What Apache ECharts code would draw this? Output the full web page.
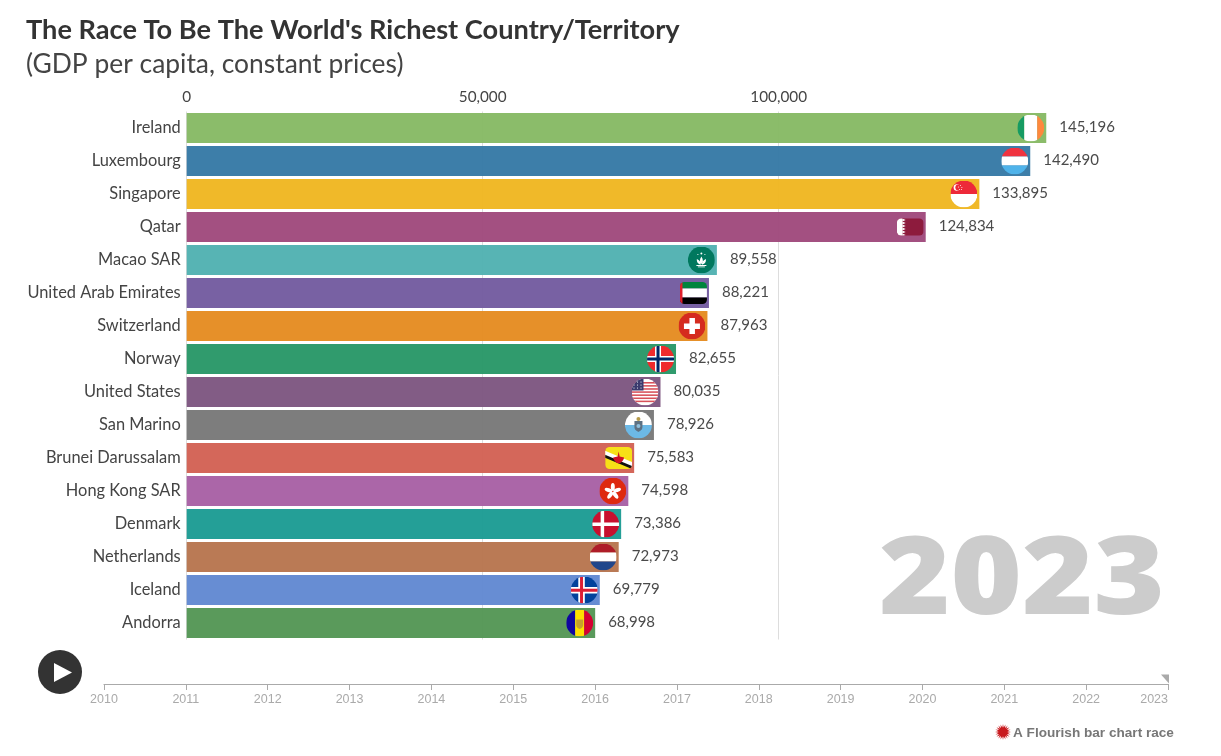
<!DOCTYPE html>
<html>
<head>
<meta charset="utf-8" />
<title>The Race To Be The World's Richest Country/Territory</title>
<script src="https://cdn.jsdelivr.net/npm/echarts@6/dist/echarts.min.js"></script>
<style>
  html, body { margin: 0; padding: 0; background: #fff; }
  #main { width: 1221px; height: 756px; }
</style>
</head>
<body>
<div id="main"></div>
<script>
var categories = ['Ireland', 'Luxembourg', 'Singapore', 'Qatar', 'Macao SAR', 'United Arab Emirates', 'Switzerland', 'Norway',
  'United States', 'San Marino', 'Brunei Darussalam', 'Hong Kong SAR', 'Denmark', 'Netherlands', 'Iceland', 'Andorra'];
var gdpValues = [145196, 142490, 133895, 124834, 89558, 88221, 87963, 82655, 80035, 78926, 75583, 74598, 73386, 72973, 69779, 68998];
var barColors = ['#87ba65', '#377aa6', '#f0b722', '#a04a7d', '#52b2b2', '#745ca0', '#e58c22', '#299868',
  '#7e5781', '#797979', '#d36255', '#a861a5', '#1d9c94', '#b87650', '#6289d2', '#559756'];
var years = [2010, 2011, 2012, 2013, 2014, 2015, 2016, 2017, 2018, 2019, 2020, 2021, 2022, 2023];
var currentYear = 2023;

var fontName = 'Lato';

// flags are 54x54 svg, clipped to a circle unless they are the rounded kind
function circleFlag(inner) {
  return flagUri('<clipPath id="c"><circle cx="27" cy="27" r="27"/></clipPath><g clip-path="url(#c)">' + inner + '</g>');
}
function roundFlag(h, inner) {
  var y = (54 - h) / 2;
  return flagUri('<clipPath id="c"><rect x="0" y="' + y + '" width="54" height="' + h + '" rx="9"/></clipPath><g clip-path="url(#c)">' + inner + '</g>');
}
function flagUri(body) {
  return 'image://data:image/svg+xml;charset=utf-8,' + encodeURIComponent('<svg xmlns="http://www.w3.org/2000/svg" width="108" height="108" viewBox="0 0 54 54">' + body + '</svg>');
}
function r(x, y, w, h, c) {
  return '<rect x="' + x + '" y="' + y + '" width="' + w + '" height="' + h + '" fill="' + c + '"/>';
}
function usStripes() {
  var s = r(0, 0, 54, 54, '#fff');
  for (var i = 0; i < 7; i++) { s += r(0, 7 + i * 6.2, 54, 3.1, '#d8505a'); }
  s += r(0, 0, 24, 24, '#3c3b6e');
  for (var a = 0; a < 3; a++) { for (var b = 0; b < 3; b++) { s += '<circle cx="' + (5 + b * 7) + '" cy="' + (7 + a * 6) + '" r="1.2" fill="#fff"/>'; } }
  return s;
}
// spiky sun for the attribution line
function sunPoints(cx, cy, n, r1, r0) {
  var pts = [];
  for (var i = 0; i < n * 2; i++) {
    var a = Math.PI * i / n, d = i % 2 ? r0 : r1;
    pts.push([cx + d * Math.cos(a), cy + d * Math.sin(a)]);
  }
  return pts;
}

var flags = {
  'Ireland': circleFlag(r(0, 0, 14, 54, '#169b62') + r(14, 0, 26, 54, '#fff') + r(40, 0, 14, 54, '#ff883e')),
  'Luxembourg': circleFlag(r(0, 0, 54, 18, '#ef3340') + r(0, 18, 54, 18, '#fff') + r(0, 36, 54, 18, '#4fb3ea')),
  'Singapore': circleFlag(r(0, 0, 54, 27, '#ed2939') + r(0, 27, 54, 27, '#fff') +
    '<circle cx="13" cy="14" r="6.5" fill="#fff"/><circle cx="16" cy="14" r="6" fill="#ed2939"/>' +
    '<circle cx="20" cy="10" r="1" fill="#fff"/><circle cx="16" cy="13" r="1" fill="#fff"/><circle cx="23" cy="14" r="1" fill="#fff"/><circle cx="18" cy="18" r="1" fill="#fff"/><circle cx="22" cy="18" r="1" fill="#fff"/>'),
  'Qatar': roundFlag(34, r(0, 0, 54, 54, '#8d1b3d') + r(0, 0, 11, 54, '#fff') +
    '<path d="M11 10 L18 13 L11 16 L18 19 L11 22 L18 25 L11 28 L18 31 L11 34 L18 37 L11 40 L18 43 L11 46 Z" fill="#fff"/>'),
  'Macao SAR': circleFlag(r(0, 0, 54, 54, '#00785e') +
    '<path d="M27 20 C31 26 31 31 27 35 C23 31 23 26 27 20 Z M18 25 C23 27 26 31 26 36 C21 36 17 31 18 25 Z M36 25 C31 27 28 31 28 36 C33 36 37 31 36 25 Z" fill="#fff"/>' +
    r(17, 37, 20, 2, '#fff') + r(20, 40, 14, 1.6, '#fff') +
    '<circle cx="27" cy="14" r="2" fill="#fff"/><circle cx="20" cy="16" r="1.2" fill="#fff"/><circle cx="34" cy="16" r="1.2" fill="#fff"/>'),
  'United Arab Emirates': roundFlag(44, r(0, 0, 54, 18, '#00843d') + r(0, 18, 54, 18, '#fff') + r(0, 36, 54, 18, '#000') + r(0, 0, 5, 54, '#e0202c')),
  'Switzerland': circleFlag(r(0, 0, 54, 54, '#d52b1e') + r(22, 11, 11, 32, '#fff') + r(11, 22, 32, 11, '#fff')),
  'Norway': circleFlag(r(0, 0, 54, 54, '#ef2b2d') + r(16, 0, 12, 54, '#fff') + r(0, 21, 54, 12, '#fff') + r(19, 0, 6, 54, '#002868') + r(0, 24, 54, 6, '#002868')),
  'United States': circleFlag(usStripes()),
  'San Marino': circleFlag(r(0, 0, 54, 27, '#fff') + r(0, 27, 54, 27, '#6cb9e6') +
    '<path d="M19 19 H35 V31 C35 37 30 39 27 41 C24 39 19 37 19 31 Z" fill="#5d7183"/><circle cx="27" cy="15" r="4" fill="#b59a4a"/><circle cx="27" cy="29" r="4" fill="#8fc0dc"/>'),
  'Brunei Darussalam': roundFlag(44, r(0, 0, 54, 54, '#f7e017') +
    '<path d="M-2 12 L56 36 L56 46 L-2 22 Z" fill="#fff"/><path d="M-2 20 L56 44 L56 50 L-2 26 Z" fill="#111"/>' +
    '<path d="M27 14 L29 24 L38 26 C36 34 31 37 27 38 C23 37 18 34 16 26 L25 24 Z" fill="#cf1126"/>'),
  'Hong Kong SAR': circleFlag(r(0, 0, 54, 54, '#de2910') +
    '<g fill="#fff"><ellipse cx="27" cy="19" rx="4" ry="8"/><ellipse cx="27" cy="19" rx="4" ry="8" transform="rotate(72 27 28)"/><ellipse cx="27" cy="19" rx="4" ry="8" transform="rotate(144 27 28)"/><ellipse cx="27" cy="19" rx="4" ry="8" transform="rotate(216 27 28)"/><ellipse cx="27" cy="19" rx="4" ry="8" transform="rotate(288 27 28)"/></g>'),
  'Denmark': circleFlag(r(0, 0, 54, 54, '#c8102e') + r(17, 0, 7, 54, '#fff') + r(0, 24, 54, 7, '#fff')),
  'Netherlands': circleFlag(r(0, 0, 54, 18, '#ae1c28') + r(0, 18, 54, 18, '#fff') + r(0, 36, 54, 18, '#21468b')),
  'Iceland': circleFlag(r(0, 0, 54, 54, '#02429c') + r(15, 0, 13, 54, '#fff') + r(0, 21, 54, 13, '#fff') + r(18.5, 0, 6, 54, '#dc1e35') + r(0, 24.5, 54, 6, '#dc1e35')),
  'Andorra': circleFlag(r(0, 0, 18, 54, '#10069f') + r(18, 0, 18, 54, '#fedf00') + r(36, 0, 18, 54, '#d50032') +
    '<path d="M20 20 H34 V31 C34 36 30 38 27 39 C24 38 20 36 20 31 Z" fill="#c7a02c"/>')
};

var barData = gdpValues.map(function (v, i) {
  return { value: v, itemStyle: { color: barColors[i] } };
});
var flagData = gdpValues.map(function (v, i) {
  return { value: [v, categories[i]], symbol: flags[categories[i]] };
});

var myChart = echarts.init(document.getElementById('main'), null, { renderer: 'canvas' });
myChart.setOption({
  animation: false,
  backgroundColor: '#fff',
  textStyle: { fontFamily: fontName },
  title: [
    { text: "The Race To Be The World's Richest Country/Territory", left: 26, top: 17, padding: 0,
      textStyle: { fontFamily: fontName, fontSize: 27.2, fontWeight: 'bold', color: '#333' } },
    { text: '(GDP per capita, constant prices)', left: 26, top: 51, padding: 0,
      textStyle: { fontFamily: fontName, fontSize: 26.4, fontWeight: 'normal', color: '#444' } }
  ],
  grid: [
    { left: 186.7, top: 111.5, width: 888, height: 528 },
    { left: 104, top: 683, width: 1064, height: 1 }
  ],
  xAxis: [
    { type: 'value', gridIndex: 0, position: 'top', min: 0, max: 150000, interval: 50000,
      axisLine: { show: false }, axisTick: { show: false },
      axisLabel: { margin: 7, fontSize: 15.3, color: '#444', showMaxLabel: false,
        formatter: function (v) { return v.toLocaleString('en-US'); } },
      splitLine: { show: true, showMaxLine: false, lineStyle: { color: '#ddd', width: 1 } } },
    { type: 'value', gridIndex: 1, min: years[0], max: years[years.length - 1], interval: 1,
      axisLine: { show: true, onZero: false, lineStyle: { color: '#aaa', width: 1.2 } },
      axisTick: { show: true, length: 6, lineStyle: { color: '#aaa', width: 1 } },
      axisLabel: { margin: 9.5, fontSize: 12.5, fontFamily: 'Liberation Sans', color: '#aaa', alignMaxLabel: 'right',
        formatter: function (v) { return String(v); } },
      splitLine: { show: false } }
  ],
  yAxis: [
    { type: 'category', gridIndex: 0, inverse: true, data: categories,
      axisLine: { show: false }, axisTick: { show: false },
      axisLabel: { margin: 6, fontSize: 16.4, color: '#444', padding: [0, 0, 2, 0] } },
    { type: 'value', gridIndex: 1, min: 0, max: 1, show: false }
  ],
  series: [
    { name: 'GDP per capita', type: 'bar', xAxisIndex: 0, yAxisIndex: 0, barWidth: 30,
      data: barData, itemStyle: { opacity: 0.97 },
      label: { show: true, position: 'right', distance: 13, offset: [0, -1], fontSize: 15, color: '#444',
        formatter: function (p) { return p.value.toLocaleString('en-US'); } } },
    { name: 'flags', type: 'scatter', xAxisIndex: 0, yAxisIndex: 0, symbolSize: 27, symbolOffset: [-15.5, 0],
      data: flagData, z: 5, silent: true, itemStyle: { opacity: 1 } },
    { name: 'year handle', type: 'scatter', xAxisIndex: 1, yAxisIndex: 1, data: [[currentYear, 0]],
      symbol: 'path://M0 0 L8 0 L8 9 Z', symbolSize: [8, 9], symbolOffset: [-3, -5],
      itemStyle: { color: '#aaa', opacity: 1 }, silent: true }
  ],
  graphic: [
    { type: 'text', x: 1165, y: 583.5, scaleX: 1.13, z: 1,
      style: { text: String(currentYear), font: '800 108px "Open Sans"', fill: '#ccc', align: 'right', verticalAlign: 'middle' } },
    { type: 'circle', shape: { cx: 60, cy: 672, r: 22 }, style: { fill: '#333' } },
    { type: 'polygon', shape: { points: [[54, 663], [72, 672.5], [54, 682]] }, style: { fill: '#fff' } },
    { type: 'polygon', shape: { points: sunPoints(1003, 732, 20, 8, 4.5) }, style: { fill: '#c8191e' } },
    { type: 'text', x: 1013, y: 733,
      style: { text: 'A Flourish bar chart race', font: 'bold 13.6px "Liberation Sans"', fill: '#777', verticalAlign: 'middle' } }
  ]
});
</script>
</body>
</html>
